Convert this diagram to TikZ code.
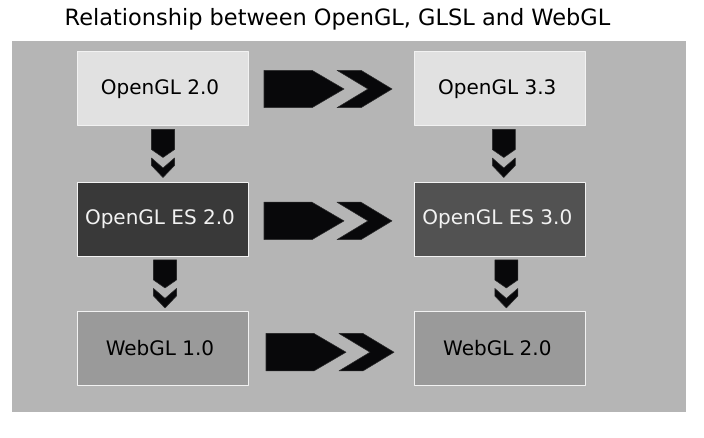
\documentclass[tikz,border=0pt]{standalone}
\usepackage{fontspec}
\setmainfont{DejaVu Sans}
\usetikzlibrary{positioning}
\definecolor{panelgray}{HTML}{B5B5B5}
\definecolor{lightbox}{HTML}{E1E1E1}
\definecolor{darkbox}{HTML}{393939}
\definecolor{midbox}{HTML}{525252}
\definecolor{webbox}{HTML}{9A9A9A}
\definecolor{boxline}{HTML}{F2F2F2}
\definecolor{chevron}{HTML}{08080A}
\tikzset{
  glbox/.style={draw=boxline,line width=0.75pt,minimum width=128.25pt,minimum height=55.5pt,inner sep=0pt,font=\fontsize{15}{18}\selectfont,execute at begin node={\kern-4.5pt}},
  chevfill/.style={fill=chevron,draw=chevron!80!panelgray,line width=0.4pt}
}
% double chevron to the right of a box
\newcommand{\hchev}[2][]{\filldraw[chevfill,shift={(#2.east)},#1] (15,-18.7) -- (63,-18.7) -- (95,0) -- (63,18.7) -- (15,18.7) -- cycle (88,-18.7) -- (112,-18.7) -- (143,0) -- (112,18.7) -- (88,18.7) -- (119,0) -- cycle;}
% double chevron below a box
\newcommand{\vchev}[2][]{\filldraw[chevfill,shift={(#2.south)},#1] (-11.5,3) -- (11.5,3) -- (11.5,23) -- (0,31) -- (-11.5,23) -- cycle (-11.5,31.5) -- (0,41.5) -- (11.5,31.5) -- (11.5,39) -- (0,51) -- (-11.5,39) -- cycle;}
\begin{document}
\begin{tikzpicture}[x=0.75pt,y=-0.75pt,line join=round]
\useasboundingbox (0,0) rectangle (704,438);
\node[anchor=base,font=\fontsize{16.85}{20}\selectfont] (title) at (337.5,26) {Relationship between OpenGL, GLSL and WebGL};
\fill[panelgray] (12,41) rectangle (686,412);
% boxes
\node[glbox,fill=lightbox] (gl20) at (163,89) {OpenGL 2.0};
\node[glbox,fill=lightbox,right=124pt of gl20] (gl33) {OpenGL 3.3};
\node[glbox,fill=darkbox,text=boxline,below=41.6pt of gl20] (es20) {OpenGL ES 2.0};
\node[glbox,fill=midbox,text=boxline,right=124pt of es20] (es30) {OpenGL ES 3.0};
\node[glbox,fill=webbox,below=40.3pt of es20] (web10) {WebGL 1.0};
\node[glbox,fill=webbox,right=124pt of web10] (web20) {WebGL 2.0};
% chevrons
\hchev{gl20}
\hchev[yshift=-1.1pt]{es20}
\hchev[xshift=1.5pt,yshift=-3pt]{web10}
\vchev{gl20}
\vchev[xshift=2.6pt]{gl33}
\vchev[xshift=1.5pt]{es20}
\vchev[xshift=4.5pt]{es30}
\end{tikzpicture}
\end{document}
